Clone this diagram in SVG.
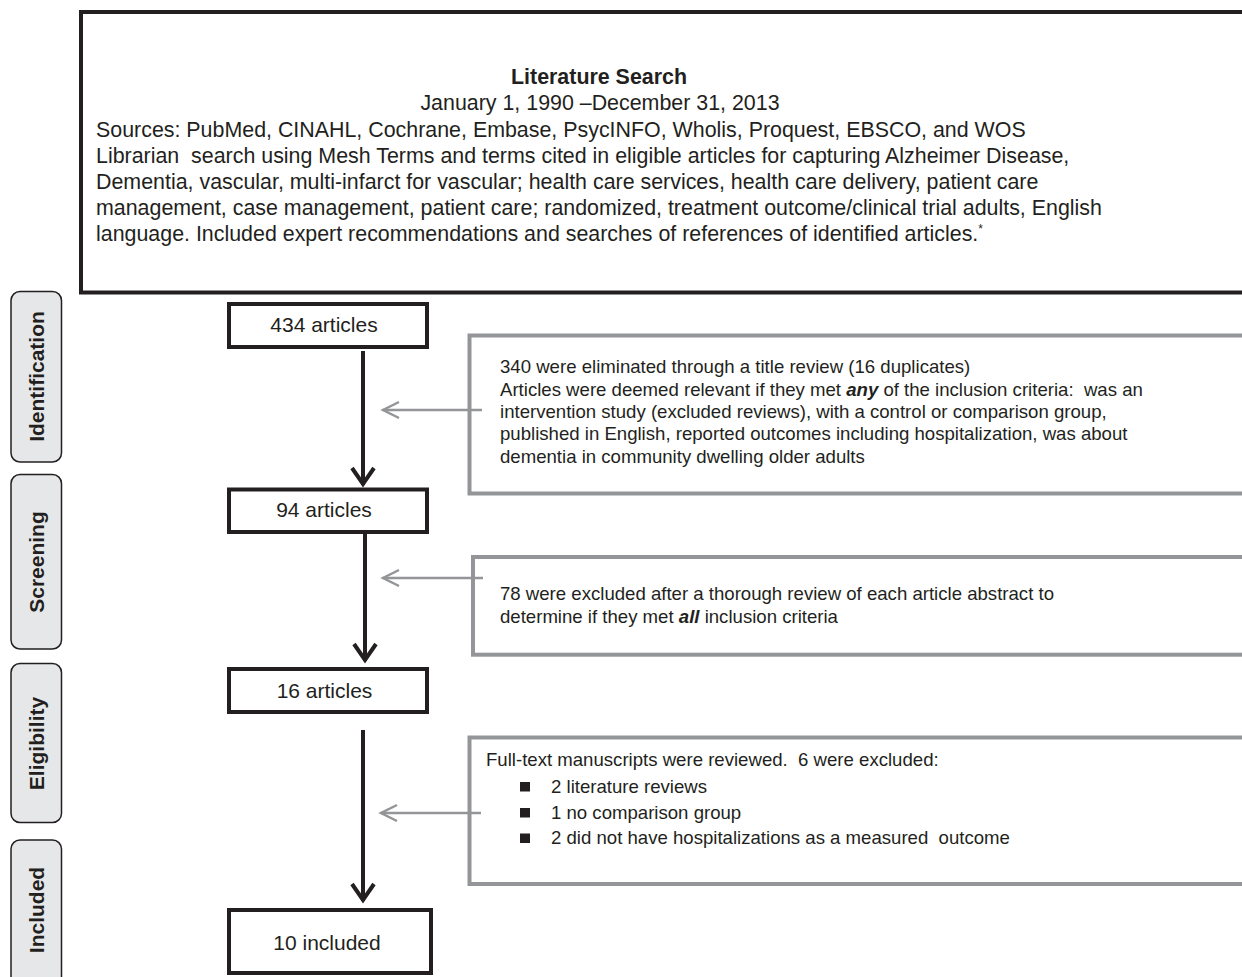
<svg xmlns="http://www.w3.org/2000/svg" width="1242" height="977" viewBox="0 0 1242 977">
<style>
text{font-family:"Liberation Sans",Arial,sans-serif;fill:#231f20}
.top{font-size:21.4px}
.grey{font-size:18.6px}
.lbl{font-size:21px;font-weight:bold}
.node{font-size:21px}
.blk{fill:#fff;stroke:#231f20;stroke-width:4}
.gbox{fill:#fff;stroke:#939598;stroke-width:4}
.stage{fill:#e6e7e8;stroke:#231f20;stroke-width:1.5}
.arr{stroke:#231f20;stroke-width:4;fill:none}
.garr{stroke:#939598;stroke-width:2.5;fill:none}
</style>
<rect width="1242" height="977" fill="#fff"/>
<g id="search">
<rect class="blk" x="81" y="12" width="1200" height="280.5"/>
<text class="top" x="599" y="84" text-anchor="middle" font-weight="bold">Literature Search</text>
<text class="top" x="600" y="110" text-anchor="middle">January 1, 1990 –December 31, 2013</text>
<text class="top" x="96" y="137">Sources: PubMed, CINAHL, Cochrane, Embase, PsycINFO, Wholis, Proquest, EBSCO, and WOS</text>
<text class="top" x="96" y="163" xml:space="preserve">Librarian  search using Mesh Terms and terms cited in eligible articles for capturing Alzheimer Disease,</text>
<text class="top" x="96" y="189">Dementia, vascular, multi-infarct for vascular; health care services, health care delivery, patient care</text>
<text class="top" x="96" y="215">management, case management, patient care; randomized, treatment outcome/clinical trial adults, English</text>
<text class="top" x="96" y="241">language. Included expert recommendations and searches of references of identified articles.<tspan font-size="12" dy="-8">*</tspan></text>
</g>
<g id="stage-identification">
<rect class="stage" x="11" y="291.5" width="50.5" height="170.5" rx="9"/>
<text class="lbl" transform="translate(43.5,376.5) rotate(-90)" text-anchor="middle">Identification</text>
</g>
<g id="stage-screening">
<rect class="stage" x="11" y="474.5" width="50.5" height="174.5" rx="9"/>
<text class="lbl" transform="translate(43.5,562) rotate(-90)" text-anchor="middle">Screening</text>
</g>
<g id="stage-eligibility">
<rect class="stage" x="11" y="663.5" width="50.5" height="159" rx="9"/>
<text class="lbl" transform="translate(43.5,743.5) rotate(-90)" text-anchor="middle">Eligibility</text>
</g>
<g id="stage-included">
<rect class="stage" x="11" y="840" width="50.5" height="150" rx="9"/>
<text class="lbl" transform="translate(43.5,910) rotate(-90)" text-anchor="middle">Included</text>
</g>
<g id="n434">
<rect class="blk" x="229" y="304" width="198" height="43"/>
<text class="node" x="324" y="332" text-anchor="middle">434 articles</text>
</g>
<g id="n94">
<rect class="blk" x="229" y="489.5" width="198" height="42.5"/>
<text class="node" x="324" y="517" text-anchor="middle">94 articles</text>
</g>
<g id="n16">
<rect class="blk" x="229" y="669" width="198" height="43"/>
<text class="node" x="324.5" y="698" text-anchor="middle">16 articles</text>
</g>
<g id="n10">
<rect class="blk" x="229" y="910" width="202" height="63"/>
<text class="node" x="327" y="950" text-anchor="middle">10 included</text>
</g>
<g id="excl1">
<rect class="gbox" x="469.5" y="335.5" width="800" height="158"/>
<text class="grey" x="500" y="373">340 were eliminated through a title review (16 duplicates)</text>
<text class="grey" x="500" y="396" xml:space="preserve">Articles were deemed relevant if they met <tspan font-weight="bold" font-style="italic">any</tspan> of the inclusion criteria:  was an</text>
<text class="grey" x="500" y="418">intervention study (excluded reviews), with a control or comparison group,</text>
<text class="grey" x="500" y="440">published in English, reported outcomes including hospitalization, was about</text>
<text class="grey" x="500" y="463">dementia in community dwelling older adults</text>
</g>
<g id="excl2">
<rect class="gbox" x="473" y="557" width="800" height="97.7"/>
<text class="grey" x="500" y="600">78 were excluded after a thorough review of each article abstract to</text>
<text class="grey" x="500" y="623">determine if they met <tspan font-weight="bold" font-style="italic">all</tspan> inclusion criteria</text>
</g>
<g id="excl3">
<rect class="gbox" x="469.5" y="737.5" width="800" height="146.5"/>
<text class="grey" x="486" y="766" xml:space="preserve">Full-text manuscripts were reviewed.  6 were excluded:</text>
<rect x="520" y="782" width="10" height="9.5" fill="#231f20"/>
<text class="grey" x="551" y="793">2 literature reviews</text>
<rect x="520" y="808" width="10" height="9.5" fill="#231f20"/>
<text class="grey" x="551" y="819">1 no comparison group</text>
<rect x="520" y="833.5" width="10" height="9.5" fill="#231f20"/>
<text class="grey" x="551" y="844" xml:space="preserve">2 did not have hospitalizations as a measured  outcome</text>
</g>
<g id="connectors">
<line class="arr" x1="363" y1="351" x2="363" y2="485"/>
<polyline class="arr" points="352,468 363,484 374,468"/>
<line class="arr" x1="365" y1="534" x2="365" y2="661"/>
<polyline class="arr" points="354,644 365,660 376,644"/>
<line class="arr" x1="363" y1="730" x2="363" y2="901"/>
<polyline class="arr" points="352,884 363,900 374,884"/>
<line class="garr" x1="482" y1="410" x2="383" y2="410"/>
<polyline class="garr" points="399,402 383,410 399,418"/>
<line class="garr" x1="483" y1="578" x2="383" y2="578"/>
<polyline class="garr" points="399,570 383,578 399,586"/>
<line class="garr" x1="481" y1="813" x2="381" y2="813"/>
<polyline class="garr" points="397,805 381,813 397,821"/>
</g>
</svg>
